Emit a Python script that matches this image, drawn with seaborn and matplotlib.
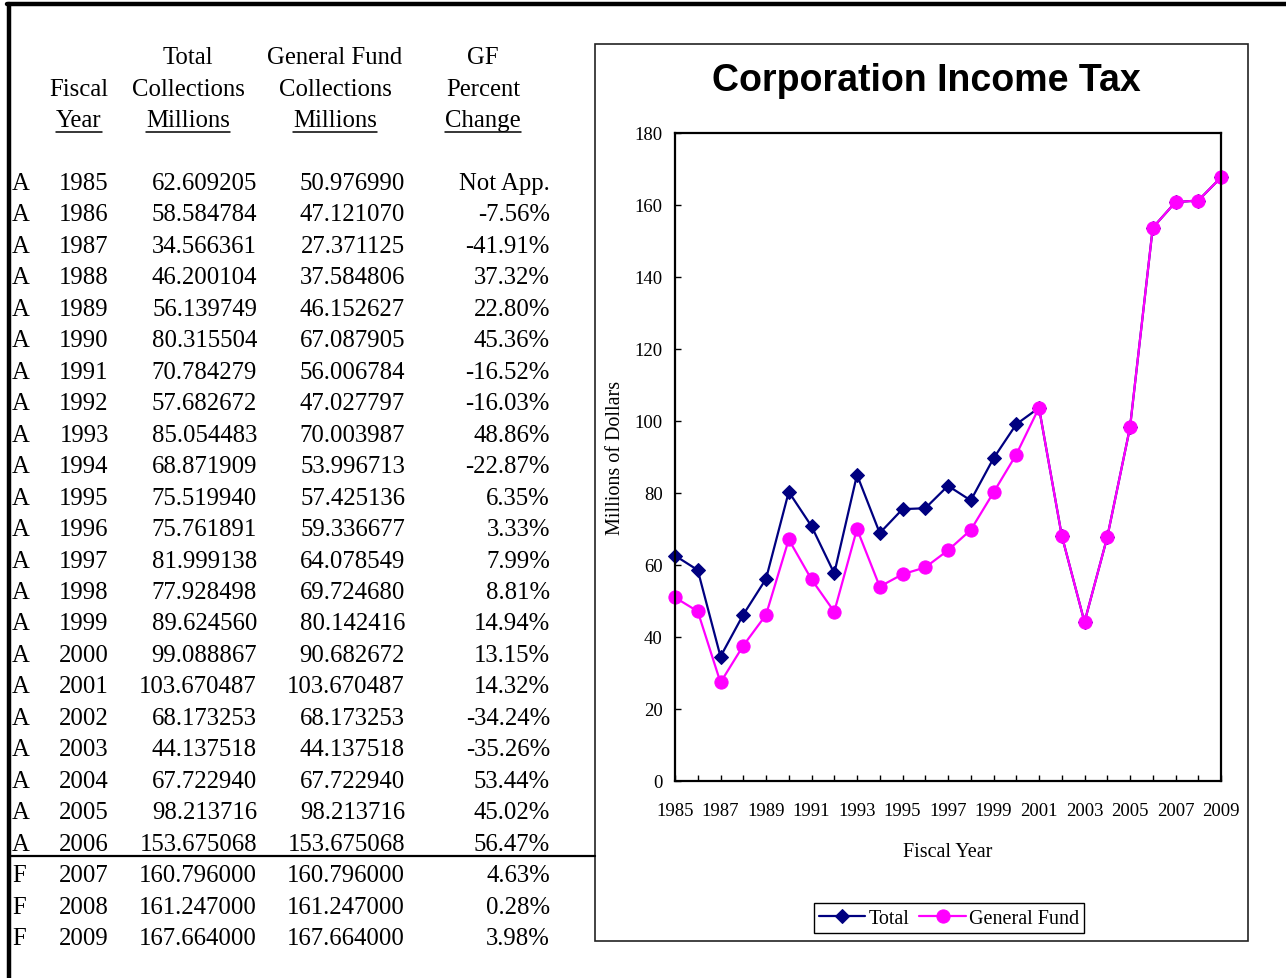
import pandas as pd
import seaborn as sns
import matplotlib.pyplot as plt
from matplotlib.lines import Line2D
from matplotlib.patches import Rectangle
from matplotlib.ticker import FixedLocator, MultipleLocator

# table / chart data
status = ['A'] * 22 + ['F'] * 3
years = list(range(1985, 2010))
total = [62.609205, 58.584784, 34.566361, 46.200104, 56.139749, 80.315504,
         70.784279, 57.682672, 85.054483, 68.871909, 75.519940, 75.761891,
         81.999138, 77.928498, 89.624560, 99.088867, 103.670487, 68.173253,
         44.137518, 67.722940, 98.213716, 153.675068, 160.796000, 161.247000,
         167.664000]
general_fund = [50.976990, 47.121070, 27.371125, 37.584806, 46.152627, 67.087905,
                56.006784, 47.027797, 70.003987, 53.996713, 57.425136, 59.336677,
                64.078549, 69.724680, 80.142416, 90.682672, 103.670487, 68.173253,
                44.137518, 67.722940, 98.213716, 153.675068, 160.796000, 161.247000,
                167.664000]
pct_change = ['Not App.', '-7.56%', '-41.91%', '37.32%', '22.80%', '45.36%',
              '-16.52%', '-16.03%', '48.86%', '-22.87%', '6.35%', '3.33%',
              '7.99%', '8.81%', '14.94%', '13.15%', '14.32%', '-34.24%',
              '-35.26%', '53.44%', '45.02%', '56.47%', '4.63%', '0.28%', '3.98%']

W, H = 1286, 979
sns.set_style('white')
plt.rcParams['font.family'] = ['Liberation Serif', 'DejaVu Serif']
for k in ['text.color', 'axes.labelcolor', 'xtick.color', 'ytick.color']:
    plt.rcParams[k] = 'black'

fig = plt.figure(figsize=(W / 100, H / 100), dpi=100)


def fx(x):
    return x / W


def fy(y):
    return 1 - y / H


# outer sheet border
fig.add_artist(Line2D([fx(7), 1], [fy(5), fy(5)], color='black', lw=3.2))
fig.add_artist(Line2D([fx(9), fx(9)], [fy(5), 0], color='black', lw=3.2))

# ---- table ----
tsize = 17.8
headers = [
    (79, ['', 'Fiscal', 'Year']),
    (188, ['Total', 'Collections', 'Millions']),
    (335, ['General Fund', 'Collections', 'Millions']),
    (483, ['GF', 'Percent', 'Change']),
]
head_y = [58, 90, 121]
under = []
for cx, lines in headers:
    for i, s in enumerate(lines):
        if s:
            t = fig.text(fx(cx), fy(head_y[i]), s, ha='center', va='center',
                         fontsize=tsize)
            if i == 2:
                under.append(t)

row0, step = 184, 31.46
for i in range(len(years)):
    y = fy(row0 + i * step)
    fig.text(fx(12), y, status[i], ha='left', va='center', fontsize=tsize)
    fig.text(fx(84), y, str(years[i]), ha='center', va='center', fontsize=tsize)
    fig.text(fx(257), y, '%.6f' % total[i], ha='right', va='center', fontsize=tsize)
    fig.text(fx(405), y, '%.6f' % general_fund[i], ha='right', va='center', fontsize=tsize)
    fig.text(fx(550), y, pct_change[i], ha='right', va='center', fontsize=tsize)

fig.add_artist(Line2D([fx(9), fx(595)], [fy(857), fy(857)], color='black', lw=1.6))

# ---- chart ----
fig.add_artist(Rectangle((fx(595), fy(942)), fx(1248) - fx(595), fy(45) - fy(942),
                         transform=fig.transFigure, fill=False,
                         edgecolor='#222222', lw=1.2))
fig.text(fx(926), fy(81), 'Corporation Income Tax', ha='center', va='center',
         fontsize=27, fontweight='bold', family=['Liberation Sans', 'DejaVu Sans'])

ax = fig.add_axes([fx(675), fy(782), fx(1221) - fx(675), fy(134) - fy(782)])
df = pd.DataFrame({'Year': years, 'Total': total, 'General Fund': general_fund})

sns.lineplot(data=df, x='Year', y='Total', ax=ax, color='#000080', marker='D',
             markersize=7, markeredgecolor='#000080', lw=1.6, clip_on=False,
             label='Total')
sns.lineplot(data=df, x='Year', y='General Fund', ax=ax, color='#FF00FF', marker='o',
             markersize=9.5, markeredgecolor='#FF00FF', lw=1.6, clip_on=False,
             label='General Fund')

ax.set_xlim(1985, 2009)
ax.set_ylim(0, 180)
ax.xaxis.set_major_locator(FixedLocator(years[::2]))
ax.xaxis.set_minor_locator(FixedLocator(years))
ax.yaxis.set_major_locator(MultipleLocator(20))
ax.tick_params(axis='x', which='both', direction='in', length=4, width=1,
               labelsize=13.5, pad=15, bottom=True)
ax.tick_params(axis='y', which='major', direction='in', length=4, width=1,
               labelsize=13.5, pad=9, left=True)
for sp in ax.spines.values():
    sp.set_color('black')
    sp.set_linewidth(1.6)

ax.set_xlabel('Fiscal Year', fontsize=14.5, labelpad=17)
ax.set_ylabel('Millions of Dollars', fontsize=14.5, labelpad=7)

leg = ax.legend(loc='center', bbox_to_anchor=(fx(949), fy(919)),
                bbox_transform=fig.transFigure, ncol=2, fontsize=14.5,
                frameon=True, fancybox=False, edgecolor='black', framealpha=1,
                handlelength=2.3, handletextpad=0.15, columnspacing=0.5,
                borderpad=0.25, borderaxespad=0)
leg.get_frame().set_linewidth(1.0)

# underline the last header line
fig.canvas.draw()
r = fig.canvas.get_renderer()
for t in under:
    bb = t.get_window_extent(r)
    fig.add_artist(Line2D([bb.x0 / W, bb.x1 / W], [(bb.y0 - 1) / H, (bb.y0 - 1) / H],
                          color='black', lw=1.1))

fig.savefig('out.png', dpi=100)
